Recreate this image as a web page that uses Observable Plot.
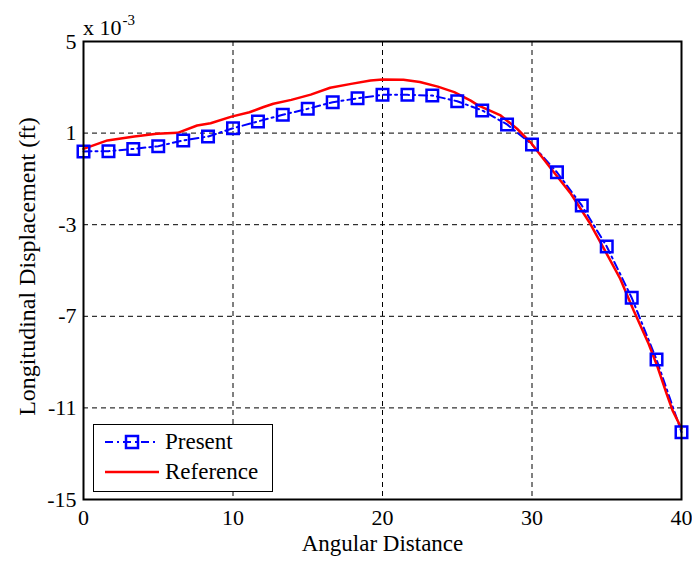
<!DOCTYPE html>
<html>
<head>
<meta charset="utf-8">
<script src="https://cdn.jsdelivr.net/npm/d3@7"></script>
<script src="https://cdn.jsdelivr.net/npm/@observablehq/plot@0.6"></script>
<style>
  html, body { margin: 0; padding: 0; background: #fff; }
  #wrap { position: relative; width: 692px; height: 562px; font-family: "Liberation Serif", "Times New Roman", serif; }
  #expo { position: absolute; left: 83px; top: 9px; font-size: 22px; line-height: 26px; color: #000; }
  #expo sup { font-size: 15px; position: relative; top: -2px; margin-left: 1px; }
  #legend { position: absolute; left: 93px; top: 424px; width: 180px; height: 68px; border: 1.5px solid #000; background: #fff; box-sizing: border-box; }
  #legend .row { position: absolute; left: 0; height: 30px; display: flex; align-items: center; font-size: 23px; }
  #legend svg { margin-left: 10px; margin-right: 5px; }
</style>
</head>
<body>
<div id="wrap">
  <div id="chart"></div>
  <div id="expo">x 10<sup>-3</sup></div>
  <div id="legend"></div>
</div>
<script>
// Present (markers)
const presentX = [0, 1.67, 3.33, 5, 6.67, 8.33, 10, 11.67, 13.33, 15, 16.67, 18.33, 20, 21.67, 23.33, 25, 26.67, 28.33, 30, 31.67, 33.33, 35, 36.67, 38.33, 40];
const presentY = [0.20, 0.21, 0.31, 0.43, 0.68, 0.85, 1.21, 1.51, 1.80, 2.06, 2.35, 2.52, 2.67, 2.67, 2.64, 2.39, 1.99, 1.38, 0.50, -0.71, -2.16, -3.95, -6.19, -8.89, -12.06];
// Reference (solid red)
const refX = [0, 1.6, 3.4, 4.9, 6.3, 7.6, 8.5, 9.9, 11.1, 12.0, 12.7, 13.9, 15.2, 16.5, 17.9, 19.2, 20.0, 21.4, 22.5, 23.7, 24.8, 25.9, 26.4, 27.9, 29.0, 29.9, 31.2, 32.6, 33.9, 35.0, 35.9, 36.8, 37.8, 38.4, 39.0, 39.4, 40.0];
const refY = [0.31, 0.68, 0.85, 0.97, 1.01, 1.33, 1.43, 1.72, 1.91, 2.13, 2.28, 2.45, 2.68, 2.98, 3.15, 3.30, 3.34, 3.33, 3.23, 3.03, 2.79, 2.42, 2.21, 1.77, 1.19, 0.60, -0.49, -1.65, -2.96, -4.27, -5.36, -6.75, -8.20, -9.22, -10.38, -11.11, -11.90];
const xTicks = [0, 10, 20, 30, 40];
const yTicks = [5, 1, -3, -7, -11, -15];
const xLabel = "Angular Distance";
const yLabel = "Longitudinal Displacement (ft)";
const seriesNames = ["Present", "Reference"];
const seriesColors = ["#0000ff", "#ff0000"];

const present = presentX.map((x, i) => ({x, y: presentY[i]}));
const reference = refX.map((x, i) => ({x, y: refY[i]}));

const chart = Plot.plot({
  width: 692,
  height: 562,
  marginLeft: 83,
  marginRight: 11,
  marginTop: 41,
  marginBottom: 63,
  style: {fontFamily: "Liberation Serif, Times New Roman, serif", fontSize: "22px", background: "#fff", color: "#000"},
  x: {domain: [0, 40]},
  y: {domain: [-15, 5]},
  marks: [
    Plot.gridX(xTicks.slice(1, -1), {stroke: "#000", strokeOpacity: 1, strokeDasharray: "5,4", strokeWidth: 1}),
    Plot.gridY(yTicks.slice(1, -1), {stroke: "#000", strokeOpacity: 1, strokeDasharray: "5,4", strokeWidth: 1}),
    Plot.axisX(xTicks, {tickSize: 0, tickPadding: 10, fontSize: 22, label: null}),
    Plot.axisY(yTicks, {tickSize: 0, tickPadding: 7, fontSize: 22, tickFormat: d => d < 0 ? "-" + Math.abs(d) : String(d), label: null}),
    Plot.text([xLabel], {frameAnchor: "bottom", text: d => d, dy: 51, fontSize: 23, fill: "#000"}),
    Plot.text([yLabel], {frameAnchor: "left", textAnchor: "middle", lineAnchor: "middle", text: d => d, rotate: -90, dx: -56, dy: -4, fontSize: 24, fill: "#000"}),
    Plot.line(present, {x: "x", y: "y", stroke: seriesColors[0], strokeWidth: 2, strokeDasharray: "8,4,2,4"}),
    Plot.line(reference, {x: "x", y: "y", stroke: seriesColors[1], strokeWidth: 2.5}),
    Plot.dot(present, {x: "x", y: "y", symbol: "square", r: 6.5, stroke: seriesColors[0], strokeWidth: 2.5, fill: "none"}),
    Plot.frame({stroke: "#000", strokeWidth: 2})
  ]
});
document.getElementById("chart").appendChild(chart);

// legend
const legend = document.getElementById("legend");
seriesNames.forEach((name, i) => {
  const row = document.createElement("div");
  row.className = "row";
  row.style.top = (i === 0 ? 2 : 32) + "px";
  const ns = "http://www.w3.org/2000/svg";
  const svg = document.createElementNS(ns, "svg");
  svg.setAttribute("width", 56); svg.setAttribute("height", 20);
  const ln = document.createElementNS(ns, "line");
  ln.setAttribute("x1", 1); ln.setAttribute("x2", 55); ln.setAttribute("y1", 10); ln.setAttribute("y2", 10);
  ln.setAttribute("stroke", seriesColors[i]);
  ln.setAttribute("stroke-width", i === 0 ? 2 : 2.5);
  if (i === 0) ln.setAttribute("stroke-dasharray", "8,4,2,4");
  svg.appendChild(ln);
  if (i === 0) {
    const r = document.createElementNS(ns, "rect");
    r.setAttribute("x", 22); r.setAttribute("y", 4); r.setAttribute("width", 12); r.setAttribute("height", 12);
    r.setAttribute("fill", "none"); r.setAttribute("stroke", seriesColors[0]); r.setAttribute("stroke-width", 2.5);
    svg.appendChild(r);
  }
  row.appendChild(svg);
  const t = document.createElement("span");
  t.textContent = name;
  row.appendChild(t);
  legend.appendChild(row);
});
</script>
</body>
</html>
